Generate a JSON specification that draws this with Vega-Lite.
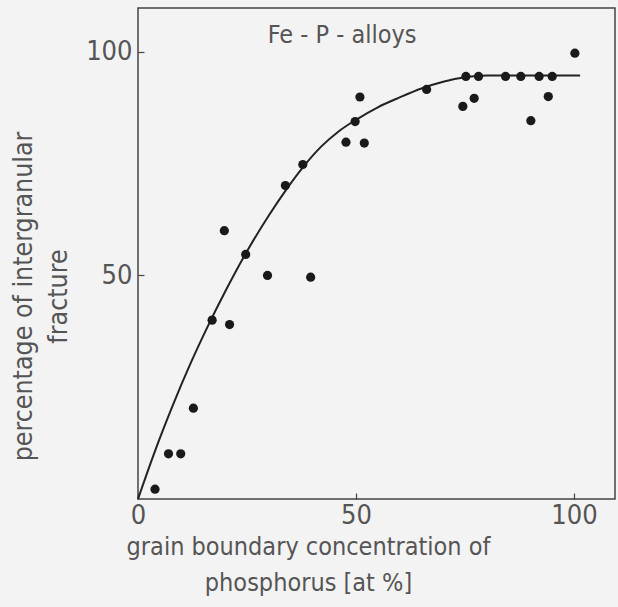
{
  "$schema": "https://vega.github.io/schema/vega-lite/v6.json",
  "width": 477,
  "height": 491,
  "autosize": {"type": "none"},
  "padding": {"left": 138, "top": 8, "right": 3, "bottom": 108},
  "background": "#f3f3f3",
  "config": {
    "view": {"stroke": "#444444", "strokeWidth": 1.5},
    "font": "Liberation Sans Narrow, DejaVu Sans Condensed, sans-serif",
    "axis": {"grid": false, "domain": false, "labelColor": "#555555", "titleColor": "#555555", "titleFontWeight": "normal", "tickColor": "#444444", "tickWidth": 1.2}
  },
  "datasets": {
    "points": [
      {"c": 3.9, "p": 2.2}, {"c": 7.0, "p": 10.1}, {"c": 9.8, "p": 10.1}, {"c": 12.7, "p": 20.3},
      {"c": 17.0, "p": 40.0}, {"c": 21.0, "p": 39.0}, {"c": 19.8, "p": 60.0}, {"c": 24.7, "p": 54.7},
      {"c": 29.7, "p": 50.0}, {"c": 39.6, "p": 49.6}, {"c": 33.8, "p": 70.1}, {"c": 37.8, "p": 74.8},
      {"c": 47.7, "p": 79.8}, {"c": 51.9, "p": 79.6}, {"c": 49.8, "p": 84.4}, {"c": 50.9, "p": 89.9},
      {"c": 66.2, "p": 91.6}, {"c": 74.5, "p": 87.8}, {"c": 77.1, "p": 89.6},
      {"c": 75.2, "p": 94.5}, {"c": 78.1, "p": 94.5}, {"c": 84.3, "p": 94.5}, {"c": 87.8, "p": 94.5},
      {"c": 92.0, "p": 94.5}, {"c": 95.0, "p": 94.5},
      {"c": 90.1, "p": 84.6}, {"c": 94.1, "p": 90.0}, {"c": 100.2, "p": 99.7}
    ],
    "curve": [
      {"c": 0, "p": 0}, {"c": 4, "p": 11}, {"c": 8, "p": 21}, {"c": 12, "p": 30.2}, {"c": 16, "p": 38.6},
      {"c": 20, "p": 46.4}, {"c": 25, "p": 55.4}, {"c": 30, "p": 63.4}, {"c": 34, "p": 69.2}, {"c": 38, "p": 74.4},
      {"c": 42, "p": 78.8}, {"c": 46, "p": 82.2}, {"c": 50, "p": 84.8}, {"c": 55, "p": 87.6}, {"c": 60, "p": 89.8},
      {"c": 65, "p": 91.8}, {"c": 70, "p": 93.3}, {"c": 75, "p": 94.3}, {"c": 80, "p": 94.7}, {"c": 101.4, "p": 94.7}
    ],
    "label": [{"c": 46.8, "p": 102, "t": "Fe - P - alloys"}]
  },
  "encoding": {
    "x": {
      "field": "c", "type": "quantitative",
      "scale": {"domain": [0, 109.4], "nice": false, "zero": false},
      "axis": {
        "values": [0, 50, 100], "offset": -6, "tickSize": 6, "labelFontSize": 27, "labelPadding": 3, "labelFlush": false,
        "title": ["grain boundary concentration of", "phosphorus [at %]"],
        "titleFontSize": 25, "titleLineHeight": 36, "titleBaseline": "top", "titleAlign": "center",
        "titleX": 170, "titleY": 41
      }
    },
    "y": {
      "field": "p", "type": "quantitative",
      "scale": {"domain": [0, 109.8], "nice": false, "zero": false},
      "axis": {
        "values": [50, 100], "offset": -6, "tickSize": 6, "labelFontSize": 27, "labelPadding": 6,
        "title": ["percentage of intergranular", "fracture"],
        "titleFontSize": 26.5, "titleLineHeight": 35, "titleBaseline": "top", "titleAlign": "center",
        "titleAngle": -90, "titleX": -134, "titleY": 288
      }
    }
  },
  "layer": [
    {"data": {"name": "curve"}, "mark": {"type": "line", "color": "#222222", "strokeWidth": 2, "interpolate": "monotone"}},
    {"data": {"name": "points"}, "mark": {"type": "circle", "size": 85, "color": "#1a1a1a", "opacity": 1}},
    {"data": {"name": "label"}, "mark": {"type": "text", "fontSize": 25, "color": "#555555", "baseline": "alphabetic", "align": "center"},
     "encoding": {"text": {"field": "t"}}}
  ]
}
